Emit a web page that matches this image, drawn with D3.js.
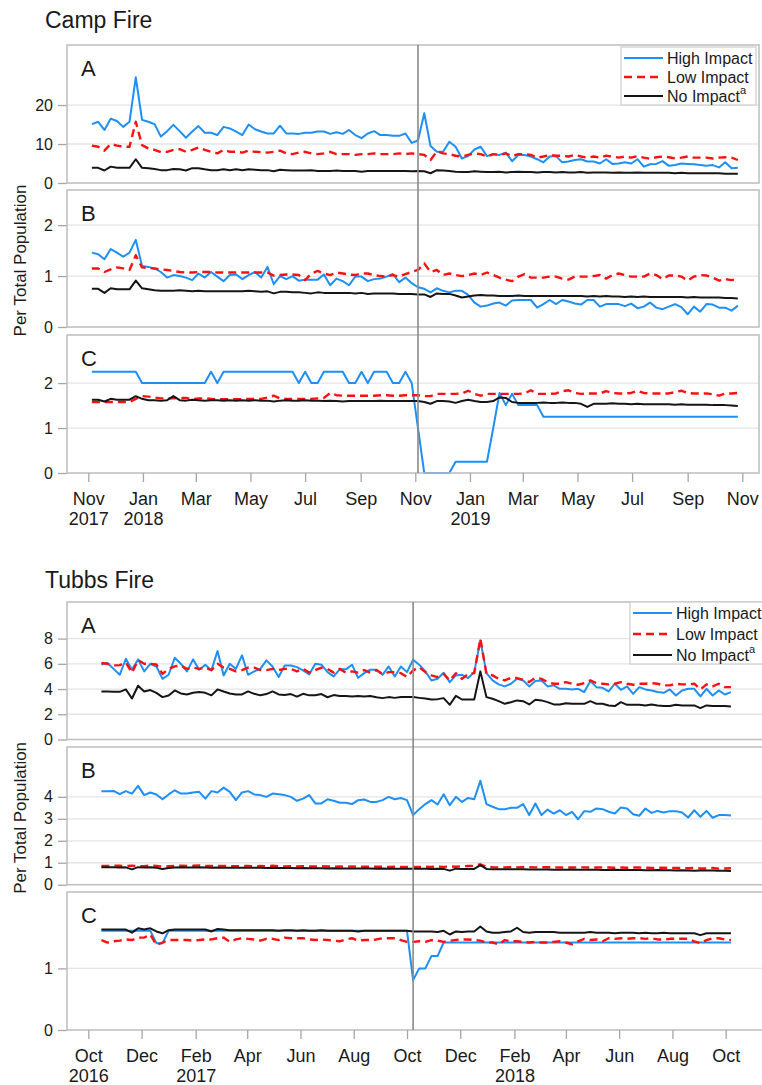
<!DOCTYPE html>
<html>
<head>
<meta charset="utf-8">
<script src="https://cdn.jsdelivr.net/npm/d3@7"></script>
<style>
body { margin: 0; background: #fff; }
svg text { font-family: "Liberation Sans", Arial, Helvetica, sans-serif; fill: #1a1a1a; }
</style>
</head>
<body>
<svg id="chart" width="762" height="1085"></svg>
<script>
"use strict";

// ---- data: weekly values, one per week from the start date ----
const seriesNames = ["High Impact", "Low Impact", "No Impact"];
const panelLetters = ["A", "B", "C"];

const campStart = new Date(2017, 10, 5);
const campEvent = new Date(2018, 10, 4);
const campYTicks = [[0, 10, 20], [0, 1, 2], [0, 1, 2]];

const campHighA = [
  15.1,15.7,13.6,16.5,15.9,14.4,15.7,27.1,16.2,15.7,
  15.1,11.9,13.3,14.9,13.3,11.6,13.2,14.6,12.9,12.9,
  12.3,14.4,14.0,13.2,12.3,15.0,13.8,13.2,12.7,12.7,
  14.7,12.7,12.7,12.6,12.9,12.9,13.2,13.2,12.6,13.0,
  12.6,13.6,12.3,11.5,12.7,13.3,12.3,12.3,12.1,12.1,
  12.7,10.3,10.9,17.9,9.5,8.0,8.0,10.6,9.3,6.3,
  6.9,8.6,9.3,6.9,7.4,7.2,7.8,5.6,7.2,7.2,
  6.8,6.1,5.3,6.8,6.9,5.3,5.5,5.9,6.1,5.5,
  5.5,5.0,6.1,4.9,5.0,5.3,5.0,6.1,4.2,4.8,
  4.9,5.6,4.4,4.6,5.0,4.9,4.8,4.6,4.4,4.6,
  4.0,5.3,3.8,3.9];
const campLowA = [
  9.6,9.3,8.3,10.0,9.6,9.3,9.3,15.7,9.7,8.9,
  8.5,7.9,8.0,8.5,8.7,8.0,8.5,9.1,8.5,8.0,
  7.6,8.5,8.0,8.0,7.8,8.3,8.0,7.9,7.8,8.0,
  8.3,7.6,7.4,7.8,8.0,7.6,7.4,7.6,8.0,7.4,
  7.4,7.4,7.2,7.4,7.4,7.6,7.4,7.4,7.4,7.6,
  7.4,7.6,7.4,7.2,5.9,8.1,7.6,7.4,7.0,6.8,
  7.2,7.6,7.4,6.8,7.4,7.2,7.6,6.9,7.4,7.4,
  7.2,6.5,6.8,7.2,7.0,7.0,6.8,7.2,6.8,6.5,
  6.8,6.5,7.0,6.8,6.5,6.8,6.5,6.9,6.5,6.2,
  6.6,6.8,6.6,6.3,6.5,6.8,6.5,6.5,6.5,6.3,
  6.5,6.6,6.5,5.9];
const campNoA = [
  3.9,3.9,3.2,4.2,3.9,3.9,3.9,6.1,3.9,3.8,
  3.6,3.3,3.3,3.6,3.5,3.2,3.8,3.8,3.5,3.3,
  3.3,3.5,3.3,3.5,3.3,3.5,3.4,3.3,3.3,3.0,
  3.4,3.3,3.2,3.2,3.2,3.3,3.1,3.1,3.1,3.2,
  3.1,3.1,3.1,2.9,3.1,3.1,3.1,3.1,3.1,3.1,
  3.1,3.0,3.1,3.0,2.5,3.3,3.2,3.1,2.9,2.8,
  2.8,3.0,2.9,2.8,2.8,2.9,2.7,2.8,2.9,2.8,
  2.8,2.7,2.8,2.8,2.7,2.8,2.7,2.7,2.8,2.6,
  2.7,2.7,2.7,2.6,2.7,2.6,2.6,2.7,2.6,2.6,
  2.6,2.6,2.6,2.5,2.6,2.5,2.5,2.5,2.5,2.5,
  2.5,2.4,2.4,2.4];

const campHighB = [
  1.46,1.43,1.33,1.53,1.46,1.38,1.46,1.71,1.20,1.18,
  1.15,1.08,0.97,1.02,1.00,0.97,0.92,1.05,0.97,1.08,
  0.99,0.90,1.02,1.03,0.94,1.02,1.08,0.97,1.18,0.84,
  1.00,0.94,1.00,0.91,0.93,0.93,0.93,1.03,0.82,0.95,
  0.90,0.82,0.99,0.99,0.90,0.94,0.95,0.99,1.04,0.88,
  0.97,0.86,0.78,0.75,0.68,0.76,0.71,0.68,0.71,0.71,
  0.63,0.48,0.40,0.42,0.46,0.48,0.42,0.52,0.53,0.53,
  0.53,0.38,0.45,0.53,0.45,0.53,0.50,0.46,0.44,0.53,
  0.53,0.40,0.45,0.45,0.45,0.41,0.46,0.37,0.40,0.48,
  0.38,0.35,0.40,0.45,0.39,0.25,0.40,0.30,0.45,0.44,
  0.38,0.38,0.32,0.42];
const campLowB = [
  1.15,1.15,1.08,1.13,1.17,1.15,1.12,1.41,1.17,1.16,
  1.15,1.13,1.12,1.10,1.08,1.07,1.07,1.08,1.08,1.08,
  1.07,1.07,1.07,1.07,1.07,1.07,1.07,1.07,1.07,1.01,
  1.02,1.03,1.03,1.02,0.92,1.05,1.10,1.05,1.02,1.07,
  1.05,1.03,1.02,1.05,1.05,1.02,1.00,0.99,1.02,0.99,
  1.04,1.08,1.12,1.25,1.08,1.12,1.02,1.05,1.02,1.00,
  1.02,1.05,1.02,1.07,1.02,0.97,0.93,0.90,0.99,1.04,
  0.97,0.97,0.97,0.99,0.99,0.95,0.93,0.99,0.99,0.99,
  1.00,1.02,0.95,1.02,1.05,1.02,0.99,0.99,0.99,1.05,
  1.02,0.94,1.01,1.01,0.99,0.91,0.99,1.02,1.01,0.97,
  0.91,0.94,0.92,0.95];
const campNoB = [
  0.75,0.75,0.67,0.76,0.74,0.74,0.74,0.91,0.76,0.74,
  0.72,0.71,0.71,0.71,0.72,0.71,0.70,0.71,0.70,0.70,
  0.70,0.70,0.70,0.70,0.70,0.71,0.70,0.69,0.70,0.66,
  0.69,0.69,0.68,0.68,0.67,0.66,0.68,0.67,0.67,0.67,
  0.67,0.67,0.66,0.67,0.65,0.66,0.66,0.66,0.66,0.65,
  0.65,0.65,0.64,0.64,0.59,0.66,0.65,0.65,0.62,0.58,
  0.60,0.62,0.63,0.62,0.62,0.61,0.61,0.61,0.62,0.61,
  0.61,0.61,0.61,0.61,0.61,0.61,0.61,0.61,0.61,0.60,
  0.61,0.60,0.61,0.60,0.60,0.59,0.60,0.59,0.60,0.59,
  0.59,0.59,0.59,0.59,0.59,0.58,0.59,0.58,0.58,0.58,
  0.58,0.57,0.57,0.56];

const campHighC = [
  2.25,2.25,2.25,2.25,2.25,2.25,2.25,2.25,2.00,2.00,
  2.00,2.00,2.00,2.00,2.00,2.00,2.00,2.00,2.00,2.25,
  2.00,2.25,2.25,2.25,2.25,2.25,2.25,2.25,2.25,2.25,
  2.25,2.25,2.25,2.00,2.25,2.00,2.00,2.25,2.25,2.25,
  2.25,2.00,2.00,2.25,2.00,2.25,2.25,2.25,2.00,2.00,
  2.25,2.00,1.00,0.00,0.00,0.00,0.00,0.00,0.25,0.25,
  0.25,0.25,0.25,0.25,1.00,1.78,1.51,1.76,1.51,1.51,
  1.51,1.51,1.25,1.25,1.25,1.25,1.25,1.25,1.25,1.25,
  1.25,1.25,1.25,1.25,1.25,1.25,1.25,1.25,1.25,1.25,
  1.25,1.25,1.25,1.25,1.25,1.25,1.25,1.25,1.25,1.25,
  1.25,1.25,1.25,1.25];
const campLowC = [
  1.58,1.58,1.58,1.58,1.58,1.58,1.58,1.65,1.71,1.70,
  1.68,1.66,1.66,1.66,1.67,1.67,1.64,1.66,1.66,1.65,
  1.64,1.64,1.64,1.64,1.64,1.65,1.65,1.65,1.68,1.72,
  1.66,1.65,1.65,1.65,1.65,1.65,1.66,1.67,1.78,1.73,
  1.72,1.72,1.72,1.72,1.72,1.72,1.73,1.73,1.72,1.72,
  1.73,1.73,1.73,1.71,1.71,1.76,1.76,1.76,1.76,1.77,
  1.83,1.76,1.72,1.76,1.76,1.76,1.76,1.76,1.76,1.77,
  1.84,1.76,1.76,1.76,1.77,1.82,1.84,1.78,1.76,1.77,
  1.77,1.77,1.82,1.78,1.77,1.77,1.78,1.83,1.78,1.77,
  1.77,1.77,1.77,1.80,1.83,1.78,1.77,1.77,1.77,1.75,
  1.72,1.77,1.77,1.78];
const campNoC = [
  1.63,1.63,1.59,1.65,1.63,1.63,1.63,1.71,1.65,1.62,
  1.62,1.61,1.62,1.71,1.62,1.61,1.63,1.62,1.61,1.62,
  1.62,1.61,1.62,1.61,1.62,1.61,1.62,1.61,1.61,1.59,
  1.61,1.62,1.61,1.61,1.62,1.61,1.61,1.60,1.61,1.60,
  1.59,1.60,1.60,1.60,1.60,1.60,1.61,1.60,1.60,1.60,
  1.60,1.60,1.60,1.58,1.54,1.60,1.60,1.59,1.56,1.60,
  1.63,1.60,1.58,1.58,1.60,1.68,1.67,1.58,1.56,1.56,
  1.56,1.56,1.57,1.56,1.56,1.57,1.56,1.56,1.54,1.47,
  1.54,1.54,1.54,1.55,1.54,1.54,1.53,1.54,1.53,1.53,
  1.53,1.53,1.53,1.52,1.53,1.52,1.52,1.52,1.52,1.51,
  1.51,1.51,1.50,1.49];

const tubbsStart = new Date(2016, 9, 16);
const tubbsEvent = new Date(2017, 9, 8);
const tubbsYTicks = [[0, 2, 4, 6, 8], [0, 1, 2, 3, 4], [0, 1]];

const tubbsHighA = [
  5.95,6.06,5.60,5.13,6.40,5.53,6.35,5.40,6.00,5.79,
  4.81,5.13,6.48,6.00,5.40,6.35,5.53,5.93,5.48,7.01,
  5.08,6.00,5.60,6.67,5.13,5.40,5.60,6.27,5.79,4.95,
  5.87,5.87,5.74,5.48,5.16,6.00,5.93,5.34,5.00,5.56,
  5.56,5.93,4.89,5.26,5.53,5.53,5.13,5.79,5.00,5.79,
  5.34,6.32,5.93,5.40,4.68,4.81,5.29,4.55,5.08,5.13,
  4.87,5.34,7.86,5.26,4.68,4.37,4.21,4.42,4.81,4.68,
  4.21,4.63,4.68,4.21,4.29,4.02,4.02,3.97,4.02,3.76,
  4.63,4.15,4.10,3.81,4.42,3.94,4.21,3.62,4.15,3.97,
  3.89,3.76,3.70,3.97,3.49,3.89,4.02,4.02,3.41,4.02,
  3.49,3.89,3.57,3.76];
const tubbsLowA = [
  6.06,6.00,5.87,5.90,6.10,5.30,6.30,6.00,6.00,5.95,
  5.20,5.60,5.80,5.85,5.60,5.70,5.60,5.70,5.50,6.00,
  5.70,5.60,5.40,5.50,5.70,5.70,5.50,5.50,5.60,5.50,
  5.60,5.60,5.40,5.60,5.30,5.50,5.70,5.60,5.30,5.60,
  5.30,5.40,5.30,5.50,5.30,5.50,5.20,5.34,5.34,5.26,
  4.95,5.48,5.74,5.34,5.08,4.95,5.20,4.68,5.26,4.81,
  5.20,5.26,7.99,5.20,5.08,4.81,4.68,4.89,4.87,4.74,
  4.55,4.89,4.81,4.55,4.42,4.42,4.55,4.42,4.34,4.47,
  4.68,4.47,4.42,4.37,4.42,4.55,4.42,4.34,4.42,4.42,
  4.47,4.42,4.29,4.29,4.42,4.37,4.37,4.42,3.97,4.37,
  4.21,4.42,4.15,4.15];
const tubbsNoA = [
  3.81,3.81,3.78,3.78,3.97,3.25,4.26,3.81,3.92,3.70,
  3.36,3.49,3.89,3.65,3.57,3.70,3.76,3.70,3.50,3.97,
  3.80,3.65,3.57,3.57,3.81,3.62,3.50,3.60,3.81,3.57,
  3.52,3.60,3.40,3.62,3.50,3.50,3.60,3.35,3.52,3.45,
  3.45,3.40,3.45,3.40,3.45,3.35,3.28,3.36,3.30,3.36,
  3.36,3.36,3.30,3.25,3.17,3.20,3.28,2.75,3.46,3.17,
  3.17,3.17,5.40,3.36,3.23,3.04,2.83,2.96,3.10,3.04,
  2.78,3.15,3.10,2.96,2.78,2.78,2.88,2.83,2.83,2.83,
  3.04,2.83,2.83,2.70,2.65,2.96,2.75,2.75,2.75,2.70,
  2.78,2.70,2.65,2.65,2.75,2.70,2.70,2.70,2.49,2.70,
  2.65,2.65,2.65,2.62];

const tubbsHighB = [
  4.26,4.26,4.27,4.12,4.26,4.15,4.50,4.08,4.20,4.11,
  3.89,4.11,4.30,4.15,4.15,4.20,4.23,3.92,4.26,4.20,
  4.42,4.23,3.85,4.20,4.26,4.11,4.08,4.00,4.15,4.12,
  4.08,4.00,3.82,3.92,4.08,3.70,3.70,3.89,3.82,3.73,
  3.73,3.67,3.85,3.88,3.77,3.77,3.85,4.00,3.89,3.95,
  3.85,3.17,3.44,3.67,3.85,3.65,4.12,3.62,4.00,3.77,
  3.95,3.89,4.73,3.67,3.55,3.44,3.44,3.50,3.50,3.67,
  3.17,3.70,3.17,3.42,3.24,3.39,3.17,3.32,2.98,3.35,
  3.32,3.47,3.44,3.32,3.24,3.52,3.47,3.21,3.14,3.47,
  3.27,3.36,3.29,3.35,3.35,3.29,3.06,3.39,3.09,3.36,
  3.05,3.17,3.17,3.15];
const tubbsLowB = [
  0.85,0.85,0.87,0.86,0.85,0.87,0.85,0.84,0.87,0.85,
  0.82,0.84,0.85,0.87,0.85,0.86,0.88,0.85,0.85,0.86,
  0.85,0.85,0.84,0.85,0.85,0.84,0.85,0.84,0.86,0.84,
  0.83,0.84,0.83,0.84,0.83,0.83,0.84,0.83,0.82,0.83,
  0.82,0.83,0.82,0.82,0.82,0.82,0.82,0.81,0.82,0.81,
  0.81,0.81,0.81,0.82,0.81,0.82,0.81,0.83,0.82,0.84,
  0.85,0.86,0.93,0.82,0.80,0.79,0.79,0.80,0.79,0.80,
  0.80,0.79,0.79,0.80,0.79,0.78,0.78,0.78,0.79,0.79,
  0.78,0.78,0.79,0.78,0.77,0.78,0.77,0.78,0.78,0.77,
  0.76,0.77,0.77,0.76,0.76,0.76,0.75,0.76,0.74,0.74,
  0.76,0.73,0.74,0.75];
const tubbsNoB = [
  0.79,0.79,0.80,0.78,0.79,0.70,0.80,0.78,0.80,0.77,
  0.71,0.76,0.78,0.79,0.78,0.78,0.79,0.78,0.77,0.78,
  0.77,0.77,0.77,0.77,0.77,0.77,0.77,0.76,0.77,0.76,
  0.76,0.76,0.75,0.76,0.75,0.75,0.75,0.74,0.75,0.74,
  0.74,0.74,0.74,0.74,0.74,0.73,0.74,0.73,0.73,0.73,
  0.73,0.73,0.73,0.73,0.72,0.73,0.72,0.64,0.73,0.72,
  0.72,0.72,0.89,0.72,0.70,0.70,0.70,0.70,0.70,0.70,
  0.69,0.69,0.69,0.69,0.68,0.68,0.68,0.69,0.68,0.68,
  0.68,0.68,0.67,0.67,0.68,0.67,0.67,0.67,0.67,0.66,
  0.66,0.67,0.66,0.66,0.65,0.66,0.65,0.64,0.65,0.65,
  0.65,0.64,0.63,0.62];

const tubbsHighC = [
  1.61,1.61,1.61,1.61,1.61,1.61,1.61,1.61,1.61,1.41,
  1.41,1.61,1.61,1.61,1.61,1.61,1.61,1.61,1.61,1.61,
  1.61,1.61,1.61,1.61,1.61,1.61,1.61,1.61,1.61,1.61,
  1.61,1.61,1.61,1.61,1.61,1.61,1.61,1.61,1.61,1.61,
  1.61,1.61,1.61,1.61,1.61,1.61,1.61,1.61,1.61,1.61,
  1.61,0.81,1.00,1.00,1.20,1.20,1.42,1.42,1.42,1.42,
  1.42,1.42,1.42,1.42,1.42,1.42,1.42,1.42,1.42,1.42,
  1.42,1.42,1.42,1.42,1.42,1.42,1.42,1.42,1.42,1.42,
  1.42,1.42,1.42,1.42,1.42,1.42,1.42,1.42,1.42,1.42,
  1.42,1.42,1.42,1.42,1.42,1.42,1.42,1.42,1.42,1.42,
  1.42,1.42,1.42,1.42];
const tubbsLowC = [
  1.46,1.42,1.44,1.45,1.47,1.46,1.50,1.50,1.55,1.38,
  1.42,1.46,1.46,1.46,1.46,1.45,1.46,1.47,1.47,1.49,
  1.50,1.43,1.47,1.49,1.48,1.47,1.45,1.48,1.48,1.46,
  1.50,1.49,1.49,1.49,1.47,1.46,1.47,1.46,1.45,1.44,
  1.47,1.49,1.45,1.46,1.46,1.47,1.49,1.49,1.49,1.46,
  1.43,1.43,1.44,1.43,1.46,1.45,1.43,1.45,1.46,1.47,
  1.47,1.46,1.45,1.42,1.42,1.39,1.46,1.44,1.44,1.43,
  1.42,1.43,1.42,1.42,1.43,1.44,1.42,1.39,1.44,1.48,
  1.46,1.47,1.44,1.49,1.48,1.49,1.48,1.49,1.49,1.48,
  1.49,1.47,1.47,1.48,1.48,1.48,1.48,1.44,1.41,1.46,
  1.49,1.49,1.47,1.46];
const tubbsNoC = [
  1.63,1.63,1.63,1.63,1.63,1.58,1.65,1.63,1.65,1.60,
  1.57,1.62,1.63,1.63,1.63,1.63,1.63,1.63,1.60,1.64,
  1.63,1.62,1.62,1.62,1.62,1.62,1.62,1.62,1.62,1.61,
  1.62,1.62,1.61,1.62,1.61,1.61,1.62,1.61,1.61,1.61,
  1.61,1.61,1.60,1.61,1.61,1.61,1.61,1.61,1.61,1.61,
  1.61,1.60,1.60,1.60,1.60,1.59,1.61,1.55,1.60,1.59,
  1.60,1.60,1.68,1.60,1.58,1.58,1.59,1.60,1.66,1.59,
  1.58,1.59,1.59,1.59,1.59,1.58,1.58,1.58,1.58,1.58,
  1.59,1.58,1.58,1.58,1.57,1.58,1.58,1.58,1.57,1.58,
  1.57,1.57,1.58,1.57,1.57,1.57,1.57,1.57,1.54,1.57,
  1.57,1.57,1.57,1.57];

// ---- look ----
const colors = ["#1e8ff5", "#ff1010", "#151515"];
const dashes = [null, "8,5", null];
const widths = [2, 2.4, 2];
const gridColor = "#e4e4e4";
const frameColor = "#bdbdbd";

const svg = d3.select("#chart");
const left = 67;

const fires = [
  {
    title: "Camp Fire", titleY: 28, start: campStart, eventDate: campEvent,
    xDomain: [new Date(2017, 10, 1), new Date(2019, 10, 1)], xRange: [88.3, 742.3],
    right: 759,
    panels: [
      {top: 45, bottom: 183, max: 35.4, ticks: campYTicks[0], series: [campHighA, campLowA, campNoA]},
      {top: 190, bottom: 327, max: 2.69, ticks: campYTicks[1], series: [campHighB, campLowB, campNoB]},
      {top: 335, bottom: 473, max: 3.07, ticks: campYTicks[2], series: [campHighC, campLowC, campNoC]}
    ],
    legend: {x: 621, y: 47, w: 135, h: 58}
  },
  {
    title: "Tubbs Fire", titleY: 588, start: tubbsStart, eventDate: tubbsEvent,
    xDomain: [new Date(2016, 9, 1), new Date(2018, 9, 1)], xRange: [88.3, 725.7],
    right: 770,
    panels: [
      {top: 602, bottom: 739.5, max: 10.9, ticks: tubbsYTicks[0], series: [tubbsHighA, tubbsLowA, tubbsNoA]},
      {top: 747, bottom: 884.7, max: 6.27, ticks: tubbsYTicks[1], series: [tubbsHighB, tubbsLowB, tubbsNoB]},
      {top: 892, bottom: 1030, max: 2.24, ticks: tubbsYTicks[2], series: [tubbsHighC, tubbsLowC, tubbsNoC]}
    ],
    legend: {x: 630, y: 602, w: 140, h: 62}
  }
];

function drawFire(fire) {
  const g = svg.append("g");
  const x = d3.scaleTime().domain(fire.xDomain).range(fire.xRange);
  const n = fire.panels[0].series[0].length;
  const dates = d3.range(n).map(i => d3.timeDay.offset(fire.start, 7 * i));

  g.append("text")
    .attr("x", 45).attr("y", fire.titleY)
    .attr("font-size", 23)
    .text(fire.title);

  fire.panels.forEach((p, k) => {
    const y = d3.scaleLinear().domain([0, p.max]).range([p.bottom, p.top]);

    // light gridlines
    g.append("g").selectAll("line")
      .data(p.ticks.filter(t => t > 0))
      .join("line")
      .attr("x1", left).attr("x2", fire.right)
      .attr("y1", d => y(d)).attr("y2", d => y(d))
      .attr("stroke", gridColor).attr("stroke-width", 1.3);

    const ax = g.append("g")
      .attr("transform", "translate(" + left + ",0)")
      .call(d3.axisLeft(y).tickValues(p.ticks).tickSize(9).tickPadding(5).tickFormat(d3.format("d")));
    ax.select(".domain").remove();
    ax.selectAll(".tick line").attr("stroke", "#a6a6a6").attr("stroke-width", 1.3);
    ax.selectAll(".tick text")
      .attr("font-size", 16)
      .attr("font-family", '"Liberation Sans", Arial, sans-serif')
      .attr("fill", "#1a1a1a");

    const line = d3.line()
      .x((d, i) => x(dates[i]))
      .y(d => y(d));

    p.series.forEach((vals, s) => {
      g.append("path")
        .datum(vals)
        .attr("d", line)
        .attr("fill", "none")
        .attr("stroke", colors[s])
        .attr("stroke-width", widths[s])
        .attr("stroke-dasharray", dashes[s])
        .attr("stroke-linejoin", "round");
    });

    g.append("rect")
      .attr("x", left).attr("y", p.top)
      .attr("width", fire.right - left).attr("height", p.bottom - p.top)
      .attr("fill", "none")
      .attr("stroke", frameColor).attr("stroke-width", 1.5);

    g.append("text")
      .attr("x", 81).attr("y", p.top + 30.5)
      .attr("font-size", 22)
      .text(panelLetters[k]);
  });

  // fire date marker across all three panels
  const first = fire.panels[0], last = fire.panels[fire.panels.length - 1];
  g.append("line")
    .attr("x1", x(fire.eventDate)).attr("x2", x(fire.eventDate))
    .attr("y1", first.top).attr("y2", last.bottom)
    .attr("stroke", "#8a8a8a").attr("stroke-width", 1.6);

  // x axis under the last panel: every second month from the first tick
  const ticks = d3.timeMonth.range(fire.xDomain[0], d3.timeDay.offset(fire.xDomain[1], 1), 2);
  const xAxis = g.append("g")
    .attr("transform", "translate(0," + last.bottom + ")")
    .call(d3.axisBottom(x).tickValues(ticks).tickSize(9).tickFormat(""));
  xAxis.select(".domain").remove();
  xAxis.selectAll(".tick line").attr("stroke", "#a6a6a6").attr("stroke-width", 1.3);
  xAxis.selectAll(".tick").each(function(d, i) {
    const t = d3.select(this).append("text")
      .attr("y", 32)
      .attr("text-anchor", "middle")
      .attr("font-size", 18)
      .attr("font-family", '"Liberation Sans", Arial, sans-serif')
      .attr("fill", "#1a1a1a");
    t.append("tspan").attr("x", 0).text(d3.timeFormat("%b")(d));
    if (i === 0 || d.getFullYear() !== ticks[i - 1].getFullYear()) {
      t.append("tspan").attr("x", 0).attr("dy", 20).text(d.getFullYear());
    }
  });

  // y axis title, centred on the middle panel
  const mid = fire.panels[1];
  g.append("text")
    .attr("transform", "translate(26," + ((mid.top + mid.bottom) / 2 + 2) + ") rotate(-90)")
    .attr("text-anchor", "middle")
    .attr("font-size", 17)
    .text("Per Total Population");

  // legend
  const L = fire.legend;
  const lg = g.append("g").attr("transform", "translate(" + L.x + "," + L.y + ")");
  lg.append("rect")
    .attr("width", L.w).attr("height", L.h)
    .attr("fill", "#fff").attr("stroke", "#cfcfcf").attr("stroke-width", 1.3);
  const rowH = (L.h - 20) / 2;
  seriesNames.forEach((name, s) => {
    const ry = 11 + s * rowH;
    lg.append("line")
      .attr("x1", 3).attr("x2", 42).attr("y1", ry).attr("y2", ry)
      .attr("stroke", colors[s]).attr("stroke-width", widths[s])
      .attr("stroke-dasharray", dashes[s]);
    const t = lg.append("text")
      .attr("x", 46).attr("y", ry + 6)
      .attr("font-size", 16)
      .text(name);
    if (s === 2) {
      t.append("tspan").attr("dy", -8).attr("font-size", 11).text("a");
    }
  });
}

fires.forEach(drawFire);
</script>
</body>
</html>
